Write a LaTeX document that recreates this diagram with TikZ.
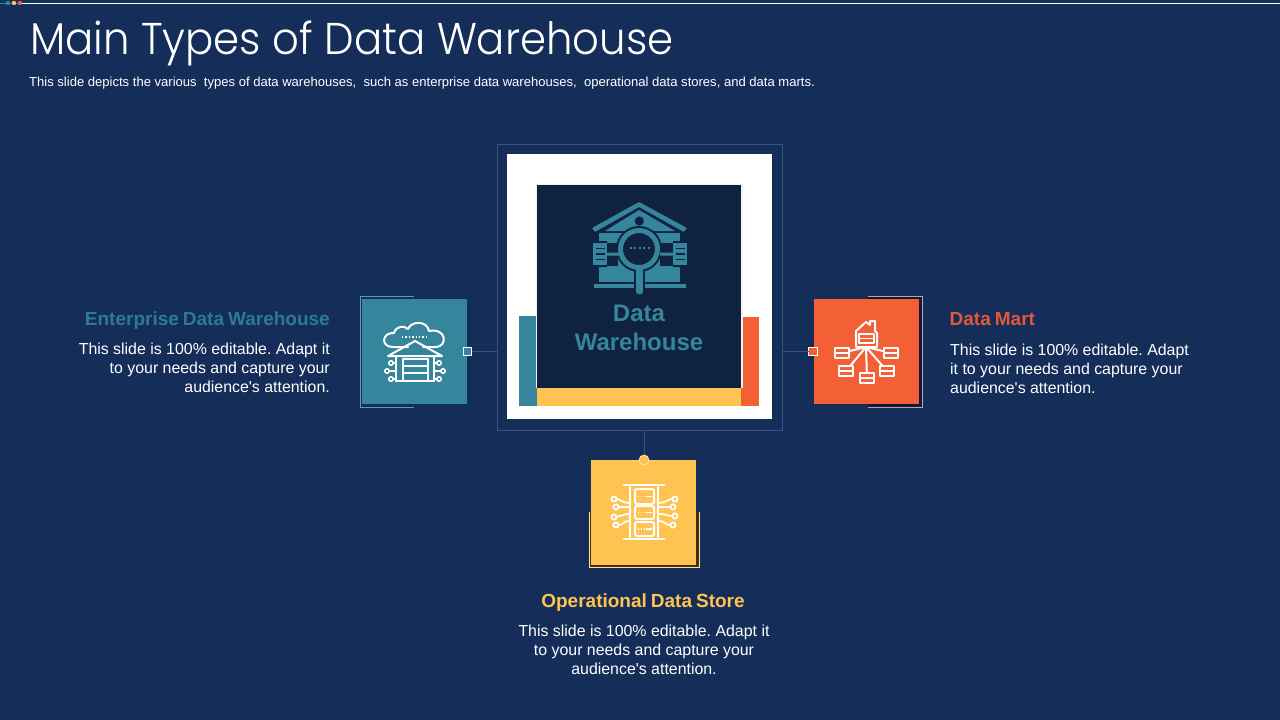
\documentclass[tikz,border=0pt]{standalone}
\usepackage{fontspec}
\setmainfont{Liberation Sans}
\newfontfamily\titlefont[UprightFont=* Light]{Poppins}
\newfontfamily\straightf{Liberation Sans}
\newcommand{\apos}{{\straightf\char"27\relax}}
\newcommand{\hdtxt}[1]{\setlength{\spaceskip}{0.21em}#1}
\definecolor{bgc}{HTML}{142D59}
\definecolor{darkc}{HTML}{0F2240}
\definecolor{tealc}{HTML}{35869C}
\definecolor{tealh}{HTML}{2F7A93}
\definecolor{orangec}{HTML}{F46036}
\definecolor{orangeh}{HTML}{E2583A}
\definecolor{yellowc}{HTML}{FEC350}
\definecolor{linec}{HTML}{38527F}
\tikzset{
  x=1pt,y=-1pt,
  box/.style={rectangle,draw=none,inner sep=0pt,outer sep=0pt,minimum width=#1,minimum height=105pt},
  box/.default=105pt,
  thinframe/.style={line width=0.8pt},
  conn/.style={draw=linec,line width=0.8pt},
  sq/.style={rectangle,draw=white,line width=0.8pt,inner sep=0pt,outer sep=0pt,minimum size=8.5pt},
  heading/.style={inner sep=0pt,font=\fontsize{19}{22}\selectfont\bfseries},
  body/.style={inner sep=0pt,text=white,font=\fontsize{15.9}{19}\selectfont\frenchspacing},
  ic/.style={draw=white,line width=2pt,line join=round,line cap=round},
}
\begin{document}
\begin{tikzpicture}
\useasboundingbox (0,0) rectangle (1280,720);
\fill[bgc] (0,0) rectangle (1280,720);
% top rule
\draw[white,line width=0.9pt] (20,3) -- (1280,3);
\draw[tealc,line width=0.9pt] (0,3) -- (20,3);
\fill[tealc] (8,3) circle (2.2);
\fill[yellowc] (14,3) circle (2.2);
\fill[orangec] (20,3) circle (2.2);
% title
\node[anchor=base west,inner sep=0pt,text=white,font=\titlefont\fontsize{44.5}{50}\selectfont] (title) at (30,54.5) {\scalebox{0.94}[1]{Main Types of Data Warehouse}};
\node[anchor=base west,inner sep=0pt,text=white,font=\fontsize{13.05}{15}\selectfont\frenchspacing] (sub) at (29,86) {This slide depicts the various\ \ types of data warehouses,\ \ such as enterprise data warehouses,\ \ operational data stores,\ and data marts.};
% centre
\node[rectangle,draw=linec,thinframe,inner sep=0pt,outer sep=0pt,minimum width=285pt,minimum height=286pt] (frame) at (639.5,287) {};
\node[rectangle,fill=white,inner sep=0pt,minimum width=265pt,minimum height=265pt] (white) at (639.5,286.5) {};
\fill[tealc] (519,316) rectangle (537,406);
\fill[orangec] (741,317) rectangle (759,406);
\fill[yellowc] (537,388) rectangle (741,406);
\fill[black!5] (535.5,183.5) rectangle (742.5,388);
\node[rectangle,fill=darkc,inner sep=0pt,minimum width=204pt,minimum height=203pt] (core) at (639,286.5) {};
% centre icon
\begin{scope}
  \fill[tealc] (599,233) rectangle (680,282);
  \fill[tealc] (594,284) rectangle (686,288);
  \fill[tealc,rounded corners=1pt] (592,228) -- (639,202) -- (687,228) -- (684,232) -- (639,207) -- (595,232) -- cycle;
  \fill[tealc] (605,231) -- (639,210) -- (675,231) -- cycle;
  \fill[darkc] (639.3,221) circle (4.6);
  \fill[darkc] (639,249) circle (23);
  \fill[darkc] (607,243) rectangle (618,266);
  \fill[darkc] (660,243) rectangle (673,266);
  \fill[darkc] (591,241) rectangle (607,267) (673,241) rectangle (689,267);
  \foreach \x in {593,673}{
    \fill[tealc] (\x,243) rectangle +(14,22);
    \fill[darkc] (\x+2.5,247.5) rectangle +(9,1.6);
    \fill[darkc] (\x+2.5,253) rectangle +(9,1.6);
    \fill[darkc] (\x+2.5,258.5) rectangle +(9,1.6);
  }
  \fill[tealc] (607,252.5) rectangle (619,255.5) (660,252.5) rectangle (673,255.5);
  \fill[darkc] (634,270) rectangle (645,288);
  \fill[tealc,even odd rule] (639,249) circle (21) (639,249) circle (16);
  \fill[tealc,rounded corners=2pt] (636.2,268) rectangle (642.8,294);
  \foreach \x in {630.5,635,639.5,644,648.5} \fill[tealc] (\x-1,247) rectangle +(2,2);
\end{scope}
\node[inner sep=0pt,text=tealc,align=center,font=\fontsize{24}{29}\selectfont\bfseries] (coret) at (639,327.5) {Data\\Warehouse};
% left card
\draw[draw=tealc!80!white,thinframe] (413.5,296) -- (360,296) -- (360,407) -- (413.5,407);
\node[box,fill=tealc] (cardL) at (414.5,351.5) {};
\node[sq,fill=tealc] (sqL) at (467.5,351.5) {};
\draw[conn] (sqL.east) -- (sqL.east -| frame.west);
% right card
\fill[darkc!80!black] (868,297) rectangle (921.5,299) (919,297) rectangle (921.5,406.5) (868,404) rectangle (921.5,406.5);
\draw[draw=orangec!35!white!75!bgc,thinframe] (868,296) -- (922,296) -- (922,407) -- (868,407);
\node[box,fill=orangec] (cardR) at (866.5,351.5) {};
\node[sq,fill=orangec] (sqR) at (813,351.5) {};
\draw[conn] (sqR.west) -- (sqR.west -| frame.east);
% bottom card
\fill[black!75!yellowc] (589,512) rectangle (699,567);
\draw[draw=yellowc!50!white,thinframe] (589,512) -- (589,567) -- (699,567) -- (699,512);
\node[box,fill=yellowc] (cardB) at (643.5,512.5) {};
\node[circle,fill=yellowc,draw=white!60!yellowc,line width=0.7pt,inner sep=0pt,outer sep=0pt,minimum size=10pt] (dot) at (644,460) {};
\draw[conn] (dot.north) -- (dot.north |- frame.south);
% warehouse icon
\begin{scope}
  \draw[ic] (408,347) -- (393,347) .. controls (380,347) and (382,332) .. (394,333) .. controls (396,326) and (404,325) .. (408,329) .. controls (411,321) and (427,320) .. (429,331) .. controls (446,327) and (449,347) .. (435,347) -- (423,347);
  \draw[ic] (388,356) -- (415,341) -- (442,356) -- cycle;
  \draw[ic] (396,357) -- (396,381) (434,357) -- (434,381);
  \draw[ic] (396,381) -- (434,381);
  \draw[ic] (403,381) -- (403,358.5) -- (428,358.5) -- (428,381);
  \draw[ic] (403,365.5) -- (428,365.5) (403,373) -- (428,373);
  \foreach \x/\y/\e in {391/363/396,387/371/396,391/379/396,439/363/434,443/371/434,439/379/434}{
    \draw[ic,line width=1.6pt] (\x,\y) circle (2.2);
    \ifnum\x<415 \draw[ic,line width=1.6pt] (\x+2,\y) -- (\e,\y); \else \draw[ic,line width=1.6pt] (\x-2,\y) -- (\e,\y); \fi
  }
  \draw[white,line width=1.2pt,dash pattern=on 1.4pt off 2pt] (402,337) -- (428,337);
\end{scope}
% data mart icon
\begin{scope}
  \draw[ic] (866,347) -- (842,353) (866,347) -- (846,371) (866,347) -- (867,378) (866,347) -- (887,371) (866,347) -- (891,353);
  \draw[ic,fill=orangec] (856,347) -- (856,331) -- (866,322) -- (870,325) -- (870,321) -- (875,321) -- (875,331) -- (877,333) -- (877,347) -- cycle;
  \draw[ic,line width=1.6pt,fill=orangec] (859,334) rectangle (874,343);
  \draw[ic,line width=1.6pt] (859,338.5) -- (874,338.5);
  \foreach \x/\y in {842/353,891/353,846/371,887/371,867/378}{
    \draw[ic,line width=1.7pt,fill=orangec] (\x-7,\y-5) rectangle (\x+7,\y+5);
    \draw[ic,line width=1.7pt] (\x-7,\y) -- (\x+7,\y);
  }
\end{scope}
% data store icon
\begin{scope}
  \draw[ic,line width=2.6pt] (624,485) -- (664,485) (624,539) -- (664,539);
  \draw[ic] (630,487) -- (630,537) (658,487) -- (658,537);
  \foreach \y/\h in {489/15,506/13,522/14}{
    \draw[ic,rounded corners=1.5pt] (635,\y) rectangle (654,\y+\h);
    \draw[white,line width=1.1pt,dash pattern=on 1.4pt off 1.5pt] (638,\y+\h/2) -- (645,\y+\h/2);
    \draw[white,line width=1.3pt] (646,\y+\h/2) -- (652,\y+\h/2);
  }
  \foreach \x/\y in {614/499,616/507,614/517,616/525,675/499,673/507,675/516,673/525}
    \draw[ic,line width=1.8pt] (\x,\y) circle (2.6);
  \draw[ic,line width=1.8pt] (616.5,499) .. controls (621,499) and (621,503) .. (630,503) (618.5,507) -- (630,507) (616.5,517) .. controls (621,517) and (621,514) .. (630,514) (618.5,525) .. controls (624,525) and (622,521) .. (630,521);
  \draw[ic,line width=1.8pt] (672.5,499) .. controls (667,499) and (667,503) .. (658,503) (670.5,507) -- (658,507) (672.5,516) .. controls (667,516) and (667,514) .. (658,514) (670.5,525) .. controls (664,525) and (666,521) .. (658,521);
\end{scope}
% texts
\node[heading,text=tealh,anchor=base east] (hL) at (330,325) {\hdtxt{Enterprise Data Warehouse}};
\node[body,align=right,anchor=north east] (tL) at (330,343) {This slide is 100\% editable. Adapt it\\to your needs and capture your\\audience\apos s attention.};
\node[heading,text=orangeh,anchor=base west] (hR) at (949.5,325) {\hdtxt{Data Mart}};
\node[body,align=left,anchor=north west] (tR) at (950,344) {This slide is 100\% editable. Adapt\\it to your needs and capture your\\audience\apos s attention.};
\node[heading,text=yellowc,anchor=base] (hB) at (643,607) {\hdtxt{Operational Data Store}};
\node[body,align=center,anchor=north] (tB) at (644,625) {This slide is 100\% editable. Adapt it\\to your needs and capture your\\audience\apos s attention.};
\end{tikzpicture}
\end{document}
